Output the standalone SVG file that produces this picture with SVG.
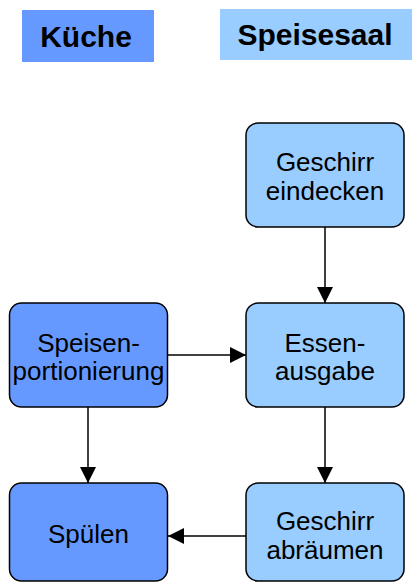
<svg xmlns="http://www.w3.org/2000/svg" width="412" height="582" viewBox="0 0 412 582">
  <defs>
    <marker id="arrow" viewBox="0 0 16 16" refX="16" refY="8" markerWidth="16" markerHeight="16" markerUnits="userSpaceOnUse" orient="auto">
      <path d="M0,0 L16,8 L0,16 Z" fill="#000"/>
    </marker>
    <style>
      .kitchen { fill: #6699FF; }
      .hall { fill: #99CCFF; }
      .box { stroke: #000; stroke-width: 1.5; }
      .head { font-family: "Liberation Sans", Arial, sans-serif; font-weight: bold; font-size: 30px; text-anchor: middle; fill: #000; }
      .label { font-family: "Liberation Sans", Arial, sans-serif; font-size: 26px; text-anchor: middle; fill: #000; }
      .link { stroke: #000; stroke-width: 1.5; fill: none; marker-end: url(#arrow); }
    </style>
  </defs>
  <rect width="412" height="582" fill="#fff"/>

  <!-- column headers -->
  <g id="header-kueche">
    <rect class="kitchen" x="22" y="10" width="132" height="52"/>
    <text class="head" x="86" y="47">Küche</text>
  </g>
  <g id="header-speisesaal">
    <rect class="hall" x="220" y="9" width="192" height="51"/>
    <text class="head" x="315" y="45">Speisesaal</text>
  </g>

  <!-- connectors -->
  <g id="connectors">
    <line class="link" x1="325" y1="227" x2="325" y2="303"/>
    <line class="link" x1="168" y1="355" x2="246" y2="355"/>
    <line class="link" x1="88" y1="407" x2="88" y2="483"/>
    <line class="link" x1="325" y1="407" x2="325" y2="483"/>
    <line class="link" x1="246" y1="536" x2="168" y2="536"/>
  </g>

  <!-- process steps -->
  <g id="geschirr-eindecken">
    <rect class="box hall" x="246" y="123" width="158" height="104" rx="12"/>
    <text class="label" x="325" y="171">Geschirr</text>
    <text class="label" x="325" y="200">eindecken</text>
  </g>
  <g id="speisenportionierung">
    <rect class="box kitchen" x="9.5" y="303" width="158" height="104" rx="12"/>
    <text class="label" x="88.5" y="352">Speisen-</text>
    <text class="label" x="88.5" y="380">portionierung</text>
  </g>
  <g id="essenausgabe">
    <rect class="box hall" x="246" y="303" width="158" height="104" rx="12"/>
    <text class="label" x="325" y="352">Essen-</text>
    <text class="label" x="325" y="380">ausgabe</text>
  </g>
  <g id="spuelen">
    <rect class="box kitchen" x="9.5" y="483" width="158" height="98" rx="12"/>
    <text class="label" x="88.5" y="543">Spülen</text>
  </g>
  <g id="geschirr-abraeumen">
    <rect class="box hall" x="246" y="483" width="158" height="98" rx="12"/>
    <text class="label" x="325" y="530">Geschirr</text>
    <text class="label" x="325" y="559">abräumen</text>
  </g>
</svg>
